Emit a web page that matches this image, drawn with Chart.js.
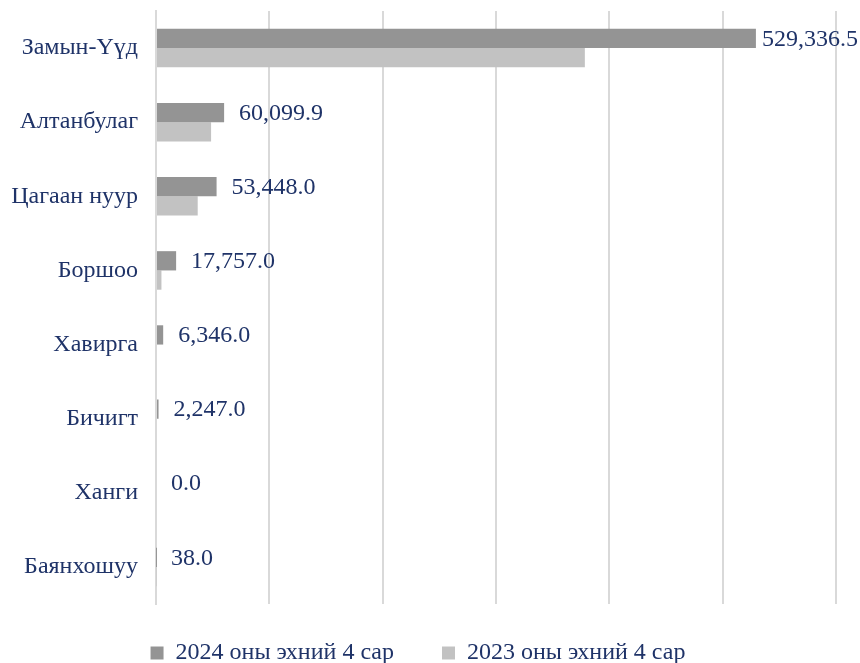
<!DOCTYPE html>
<html>
<head>
<meta charset="utf-8">
<script src="https://cdn.jsdelivr.net/npm/chart.js@4.4.0/dist/chart.umd.min.js"></script>
<style>
  html, body { margin: 0; padding: 0; background: #fff; }
  #wrap { width: 860px; height: 663px; }
</style>
</head>
<body>
<div id="wrap"><canvas id="borderChart"></canvas></div>
<script>
// border ports, first 4 months
const ports = ["Замын-Үүд", "Алтанбулаг", "Цагаан нуур", "Боршоо", "Хавирга", "Бичигт", "Ханги", "Баянхошуу"];
const values2024 = [529336.5, 60099.9, 53448.0, 17757.0, 6346.0, 2247.0, 0.0, 38.0];
const values2023 = [378400, 48600, 36800, 4800, 0, 0, 0, 500];
const seriesNames = ["2024 оны эхний 4 сар", "2023 оны эхний 4 сар"];

const navy = "#1f3368";
const serif = "'Liberation Serif', 'DejaVu Serif', serif";

// value labels right of the 2024 bars
const valueLabels = {
  id: "valueLabels",
  afterDatasetsDraw(chart) {
    const ctx = chart.ctx;
    const meta = chart.getDatasetMeta(0);
    ctx.save();
    ctx.font = "24px " + serif;
    ctx.fillStyle = navy;
    ctx.textBaseline = "middle";
    meta.data.forEach(function (bar, i) {
      const txt = values2024[i].toLocaleString("en-US", { minimumFractionDigits: 1, maximumFractionDigits: 1 });
      const w = ctx.measureText(txt).width;
      let x = bar.x + 15;
      if (x + w > chart.width - 2) x = Math.max(bar.x + 4, chart.width - 2 - w);
      ctx.fillText(txt, x, bar.y + 1);
    });
    ctx.restore();
  },
};

const ctx = document.getElementById("borderChart").getContext("2d");
new Chart(ctx, {
  type: "bar",
  data: {
    labels: ports,
    datasets: [
      {
        label: seriesNames[0] + "        ",
        data: values2024,
        backgroundColor: "#949494",
      },
      {
        label: seriesNames[1],
        data: values2023,
        backgroundColor: "#c2c2c2",
      },
    ],
  },
  options: {
    indexAxis: "y",
    responsive: true,
    maintainAspectRatio: false,
    animation: false,
    layout: { padding: { top: 11, right: 24, left: 0, bottom: -12 } },
    datasets: {
      bar: { categoryPercentage: 0.52, barPercentage: 1.0 },
    },
    scales: {
      x: {
        min: 0,
        max: 600000,
        ticks: { display: false, stepSize: 100000 },
        grid: { color: "#d9d9d9", lineWidth: 2, drawTicks: false },
        border: { display: false },
        afterFit(scale) { scale.height = 37; },
      },
      y: {
        ticks: {
          color: navy,
          font: { family: serif, size: 24 },
          padding: 18,
        },
        grid: { display: false, drawTicks: false },
        border: { display: true, color: "#d9d9d9", width: 2 },
        afterFit(scale) {
          scale.width = 156;
          scale.paddingTop = 0;
          scale.paddingBottom = 0;
        },
      },
    },
    plugins: {
      tooltip: { enabled: false },
      legend: {
        position: "bottom",
        labels: {
          color: navy,
          font: { family: serif, size: 24 },
          boxWidth: 13,
          boxHeight: 13,
          padding: 0,
        },
      },
    },
  },
  plugins: [valueLabels],
});
</script>
</body>
</html>
